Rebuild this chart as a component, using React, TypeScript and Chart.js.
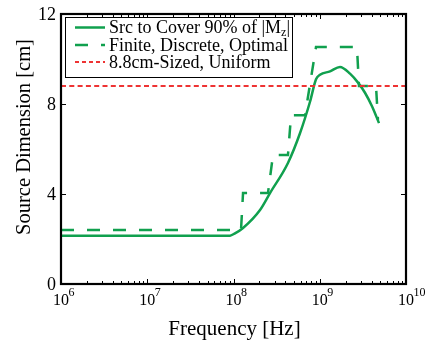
import React, { useEffect, useRef } from "react";
import { Chart, registerables } from "chart.js";

Chart.register(...registerables);

// ---- data ----
const solidFreq = [1e6, 9.11e7, 1.04e8, 1.29e8, 2.03e8, 2.65e8, 4.28e8, 5.9e8, 7.71e8, 9.05e8, 1.007e9, 1.315e9, 1.717e9, 2.243e9, 2.777e9, 3.346e9, 4.035e9, 4.864e9];
const solidVal = [2.15, 2.15, 2.25, 2.49, 3.29, 4.04, 5.38, 6.7, 8.1, 9.1, 9.3, 9.45, 9.65, 9.35, 8.95, 8.5, 7.9, 7.15];

const dashFreq = [1e6, 1.222e8, 1.29e8, 2.51e8, 2.87e8, 4.28e8, 4.65e8, 6.75e8, 9.05e8, 2.7e9, 2.85e9, 4.49e9, 4.73e9];
const dashVal = [2.4, 2.4, 4.04, 4.04, 5.73, 5.73, 7.5, 7.5, 10.53, 10.53, 8.8, 8.8, 7.3];

const uniformFreq = [1e6, 1e10];
const uniformVal = [8.8, 8.8];

const xTickExps = [6, 7, 8, 9, 10];
const yTicks = [0, 4, 8, 12];

const legendLabels = ["Src to Cover 90% of |M", "Finite, Discrete, Optimal", "8.8cm-Sized, Uniform"];

const GREEN = "#10a04e";
const RED = "#ee3333";
const FONT = "'Liberation Serif', 'DejaVu Serif', serif";

const toPts = (f: number[], v: number[]) => f.map((x, i) => ({ x, y: v[i] }));

const decorPlugin = {
  id: "decor",
  afterDraw(chart: any) {
    const { ctx, chartArea: a, scales } = chart;
    const xs = scales.x;
    const ys = scales.y;
    ctx.save();
    ctx.strokeStyle = "#000";
    ctx.fillStyle = "#000";

    // ticks
    ctx.lineWidth = 1;
    ctx.beginPath();
    for (let e = xTickExps[0]; e <= xTickExps[xTickExps.length - 1]; e++) {
      for (let m = 1; m <= 9; m++) {
        const v = m * Math.pow(10, e);
        if (v > 1e10) break;
        const px = Math.round(xs.getPixelForValue(v)) + 0.5;
        const len = m === 1 ? 5 : 3;
        ctx.moveTo(px, a.bottom);
        ctx.lineTo(px, a.bottom - len);
        ctx.moveTo(px, a.top);
        ctx.lineTo(px, a.top + len);
      }
    }
    yTicks.forEach((t) => {
      const py = Math.round(ys.getPixelForValue(t)) + 0.5;
      ctx.moveTo(a.left, py);
      ctx.lineTo(a.left + 5, py);
      ctx.moveTo(a.right, py);
      ctx.lineTo(a.right - 5, py);
    });
    ctx.stroke();

    // box
    ctx.lineWidth = 2.2;
    ctx.strokeRect(a.left, a.top, a.right - a.left, a.bottom - a.top);

    // y tick labels
    ctx.font = `18px ${FONT}`;
    ctx.textAlign = "right";
    ctx.textBaseline = "middle";
    yTicks.forEach((t) => {
      ctx.fillText(String(t), a.left - 5, ys.getPixelForValue(t) + 1);
    });

    // x tick labels 10^n
    xTickExps.forEach((e) => {
      const px = xs.getPixelForValue(Math.pow(10, e));
      ctx.font = `16px ${FONT}`;
      ctx.textAlign = "center";
      ctx.textBaseline = "alphabetic";
      const w = ctx.measureText("10").width;
      ctx.fillText("10", px, a.bottom + 21);
      ctx.font = `12px ${FONT}`;
      ctx.textAlign = "left";
      ctx.fillText(String(e), px + w / 2 - 0.5, a.bottom + 12);
    });

    // axis titles
    ctx.font = `21px ${FONT}`;
    ctx.textAlign = "center";
    ctx.textBaseline = "middle";
    ctx.fillText("Frequency [Hz]", (a.left + a.right) / 2 + 1, a.bottom + 45);
    ctx.save();
    ctx.translate(25, 137);
    ctx.rotate(-Math.PI / 2);
    ctx.font = `20.5px ${FONT}`;
    ctx.fillText("Source Dimension [cm]", 0, 0);
    ctx.restore();

    // legend
    const lx = 65, ly = 17, lw = 227, lh = 60;
    ctx.fillStyle = "#fff";
    ctx.fillRect(lx, ly, lw, lh);
    ctx.lineWidth = 1;
    ctx.strokeStyle = "#000";
    ctx.strokeRect(lx + 0.5, ly + 0.5, lw, lh);
    const rows = [27.5, 45, 62];
    const styles = [
      { c: GREEN, d: [] as number[], w: 2.5 },
      { c: GREEN, d: [13, 13], w: 2.5 },
      { c: RED, d: [4, 3], w: 2 },
    ];
    rows.forEach((ry, i) => {
      ctx.beginPath();
      ctx.strokeStyle = styles[i].c;
      ctx.lineWidth = styles[i].w;
      ctx.setLineDash(styles[i].d);
      ctx.moveTo(75, ry);
      ctx.lineTo(105, ry);
      ctx.stroke();
      ctx.setLineDash([]);
      ctx.fillStyle = "#000";
      ctx.font = `18px ${FONT}`;
      ctx.textAlign = "left";
      ctx.textBaseline = "middle";
      ctx.fillText(legendLabels[i], 109, ry + 1);
      if (i === 0) {
        let tx = 109 + ctx.measureText(legendLabels[i]).width;
        ctx.font = `12px ${FONT}`;
        ctx.fillText("z", tx, ry + 5);
        tx += ctx.measureText("z").width;
        ctx.font = `18px ${FONT}`;
        ctx.fillText("|", tx, ry + 1);
      }
    });
    ctx.restore();
  },
};

export default function App() {
  const ref = useRef<HTMLCanvasElement>(null);
  useEffect(() => {
    if (!ref.current) return;
    const chart = new Chart(ref.current, {
      type: "line",
      data: {
        datasets: [
          {
            data: toPts(uniformFreq, uniformVal),
            borderColor: RED,
            borderWidth: 2,
            borderDash: [5, 3.3],
            pointRadius: 0,
            fill: false,
            order: 0,
          },
          {
            data: toPts(dashFreq, dashVal),
            borderColor: GREEN,
            borderWidth: 2.5,
            borderDash: [13, 13],
            pointRadius: 0,
            fill: false,
            order: 1,
          },
          {
            data: toPts(solidFreq, solidVal),
            borderColor: GREEN,
            borderWidth: 2.5,
            pointRadius: 0,
            fill: false,
            cubicInterpolationMode: "monotone",
            order: 2,
          },
        ],
      },
      options: {
        responsive: false,
        animation: false,
        devicePixelRatio: 1,
        layout: { padding: { left: 61, right: 20, top: 14, bottom: 59 } },
        plugins: { legend: { display: false }, tooltip: { enabled: false } },
        scales: {
          x: { type: "logarithmic", min: 1e6, max: 1e10, display: false },
          y: { type: "linear", min: 0, max: 12, display: false },
        },
      },
      plugins: [decorPlugin],
    });
    return () => chart.destroy();
  }, []);
  return (
    <div style={{ position: "absolute", left: 0, top: 0, width: 426, height: 343, background: "#fff" }}>
      <canvas ref={ref} width={426} height={343} />
    </div>
  );
}
